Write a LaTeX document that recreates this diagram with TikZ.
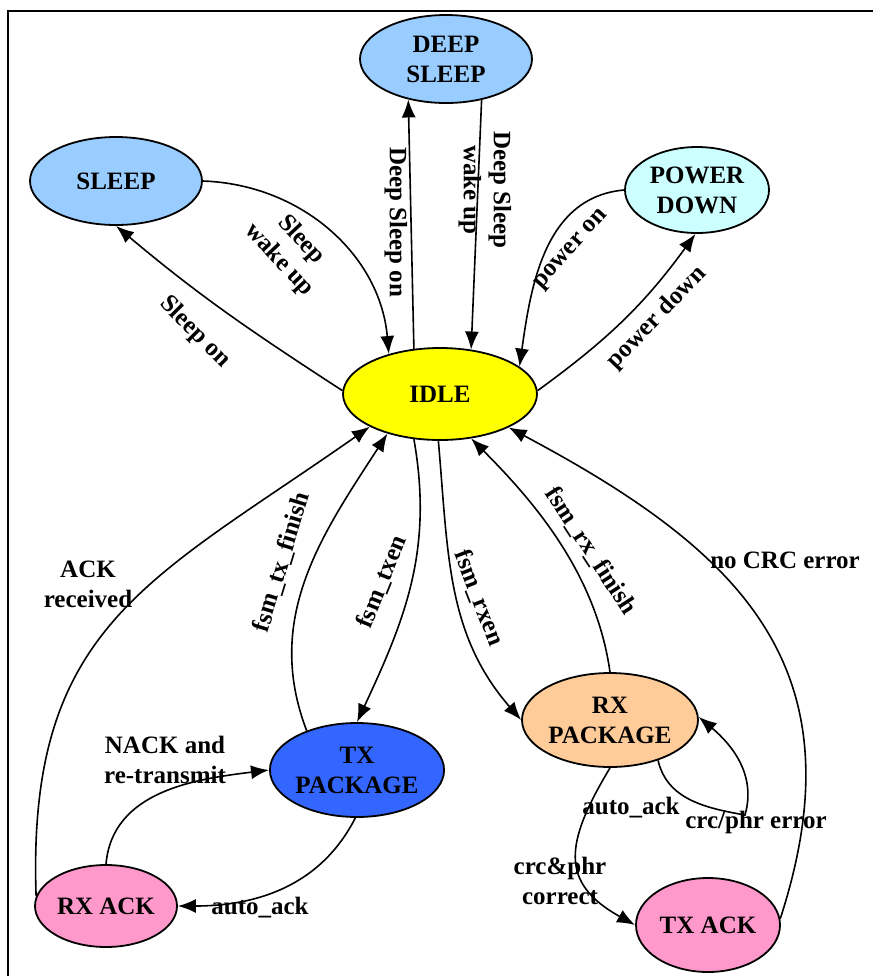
\documentclass[tikz,border=0pt]{standalone}
\usepackage{fontspec}
\setmainfont{Liberation Serif}
\usetikzlibrary{arrows.meta}
\usetikzlibrary{shapes.geometric}

\definecolor{sleepblue}{HTML}{99CCFF}
\definecolor{powercyan}{HTML}{CCFFFF}
\definecolor{idleyellow}{HTML}{FFFF00}
\definecolor{txblue}{HTML}{3366FF}
\definecolor{rxorange}{HTML}{FFCC99}
\definecolor{ackpink}{HTML}{FF99CC}

\begin{document}
\begin{tikzpicture}[x=0.5pt, y=-0.5pt,
    state/.style={ellipse, draw, line width=0.9pt, inner sep=0pt, align=center, font=\fontsize{12.5}{15}\selectfont\bfseries},
    lbl/.style={inner sep=0pt, align=center, font=\fontsize{12.5}{15}\selectfont\bfseries},
    trans/.style={-{Latex[length=9pt, width=7pt]}, line width=0.8pt}]
      \useasboundingbox (0,0) rectangle (873,976);
      \draw[line width=1.25pt] (8,976) -- (8,11) -- (873,11);

      \node[state, fill=sleepblue, minimum width=86pt, minimum height=44pt] (deep) at (446,59) {DEEP\\SLEEP};
      \node[state, fill=sleepblue, minimum width=86pt, minimum height=44pt] (sleep) at (116,181) {SLEEP};
      \node[state, fill=powercyan, minimum width=72pt, minimum height=43pt] (power) at (697,190) {POWER\\DOWN};
      \node[state, fill=idleyellow, minimum width=97pt, minimum height=46pt] (idle) at (440,394) {IDLE};
      \node[state, fill=txblue, minimum width=85pt, minimum height=47pt] (txpkg) at (357,770) {TX\\PACKAGE};
      \node[state, fill=rxorange, minimum width=88pt, minimum height=47pt] (rxpkg) at (610,720) {RX\\PACKAGE};
      \node[state, fill=ackpink, minimum width=71pt, minimum height=41pt] (rxack) at (106,906) {RX ACK};
      \node[state, fill=ackpink, minimum width=72pt, minimum height=47pt] (txack) at (708,925) {TX ACK};
      \coordinate (crcloop) at (745,815);

      \draw[trans] (idle.178) to[out=147, in=-40] (sleep.270);
      \draw[trans] (sleep.0) to[out=-2, in=95] (idle.142);
      \draw[trans] (idle.120) -- (deep.227);
      \draw[trans] (deep.311) -- (idle.55);
      \draw[trans] (idle.2) to[out=36, in=-126] (power.268);
      \draw[trans] (power.180) to[out=185, in=82] (idle.19);
      \draw[trans] (rxack.172) to[out=92, in=-145, looseness=1.2] (idle.205);
      \draw[trans] (txpkg.142) to[out=111, in=-123] (idle.217);
      \draw[trans] (idle.240) to[out=-80, in=65] (txpkg.90);
      \draw[trans] (idle.268) to[out=-85, in=131] (rxpkg.180);
      \draw[trans] (rxpkg.90) to[out=98, in=-45, looseness=0.9] (idle.305);
      \draw[trans] (txack.5) to[out=72, in=-28, looseness=1.2] (idle.334);
      \draw[trans] (txpkg.268) to[out=243, in=0] (rxack.0);
      \draw[trans] (rxack.90) to[out=85, in=187] (txpkg.180);
      \draw[trans] (rxpkg.270) to[out=239, in=151, looseness=1.4] (txack.180);
      \draw[trans] (rxpkg.320) to[out=-77, in=170] (crcloop) to[out=74, in=-40] (rxpkg.2);

      \node[lbl, rotate=-45] (lsleepon) at (195,332) {Sleep on};
      \node[lbl, rotate=-47] (lsleepwake) at (290,250) {Sleep\\wake up};
      \node[lbl, rotate=-90] (ldeepon) at (396,222) {Deep Sleep on};
      \node[lbl, rotate=-90] (ldeepwake) at (485,190) {Deep Sleep\\wake up};
      \node[lbl, rotate=48] (lpoweron) at (572,250) {power on};
      \node[lbl, rotate=46] (lpowerdown) at (657,318) {power down};
      \node[lbl] (lackrecv) at (88,584) {ACK\\received};
      \node[lbl, rotate=73] (ltxfinish) at (282,562) {fsm\_tx\_finish};
      \node[lbl, rotate=68] (ltxen) at (382,582) {fsm\_txen};
      \node[lbl, rotate=-69] (lrxen) at (479,598) {fsm\_rxen};
      \node[lbl, rotate=-57] (lrxfinish) at (591,551) {fsm\_rx\_finish};
      \node[lbl] (lnocrc) at (785,560) {no CRC error};
      \node[lbl] (lnack) at (165,760) {NACK and\\re-transmit};
      \node[lbl] (ltxauto) at (260,908) {auto\_ack};
      \node[lbl] (lrxauto) at (631,808) {auto\_ack};
      \node[lbl] (lcrcerr) at (756,822) {crc/phr error};
      \node[lbl] (lcrcok) at (560,881) {crc\&phr\\correct};
\end{tikzpicture}
\end{document}
